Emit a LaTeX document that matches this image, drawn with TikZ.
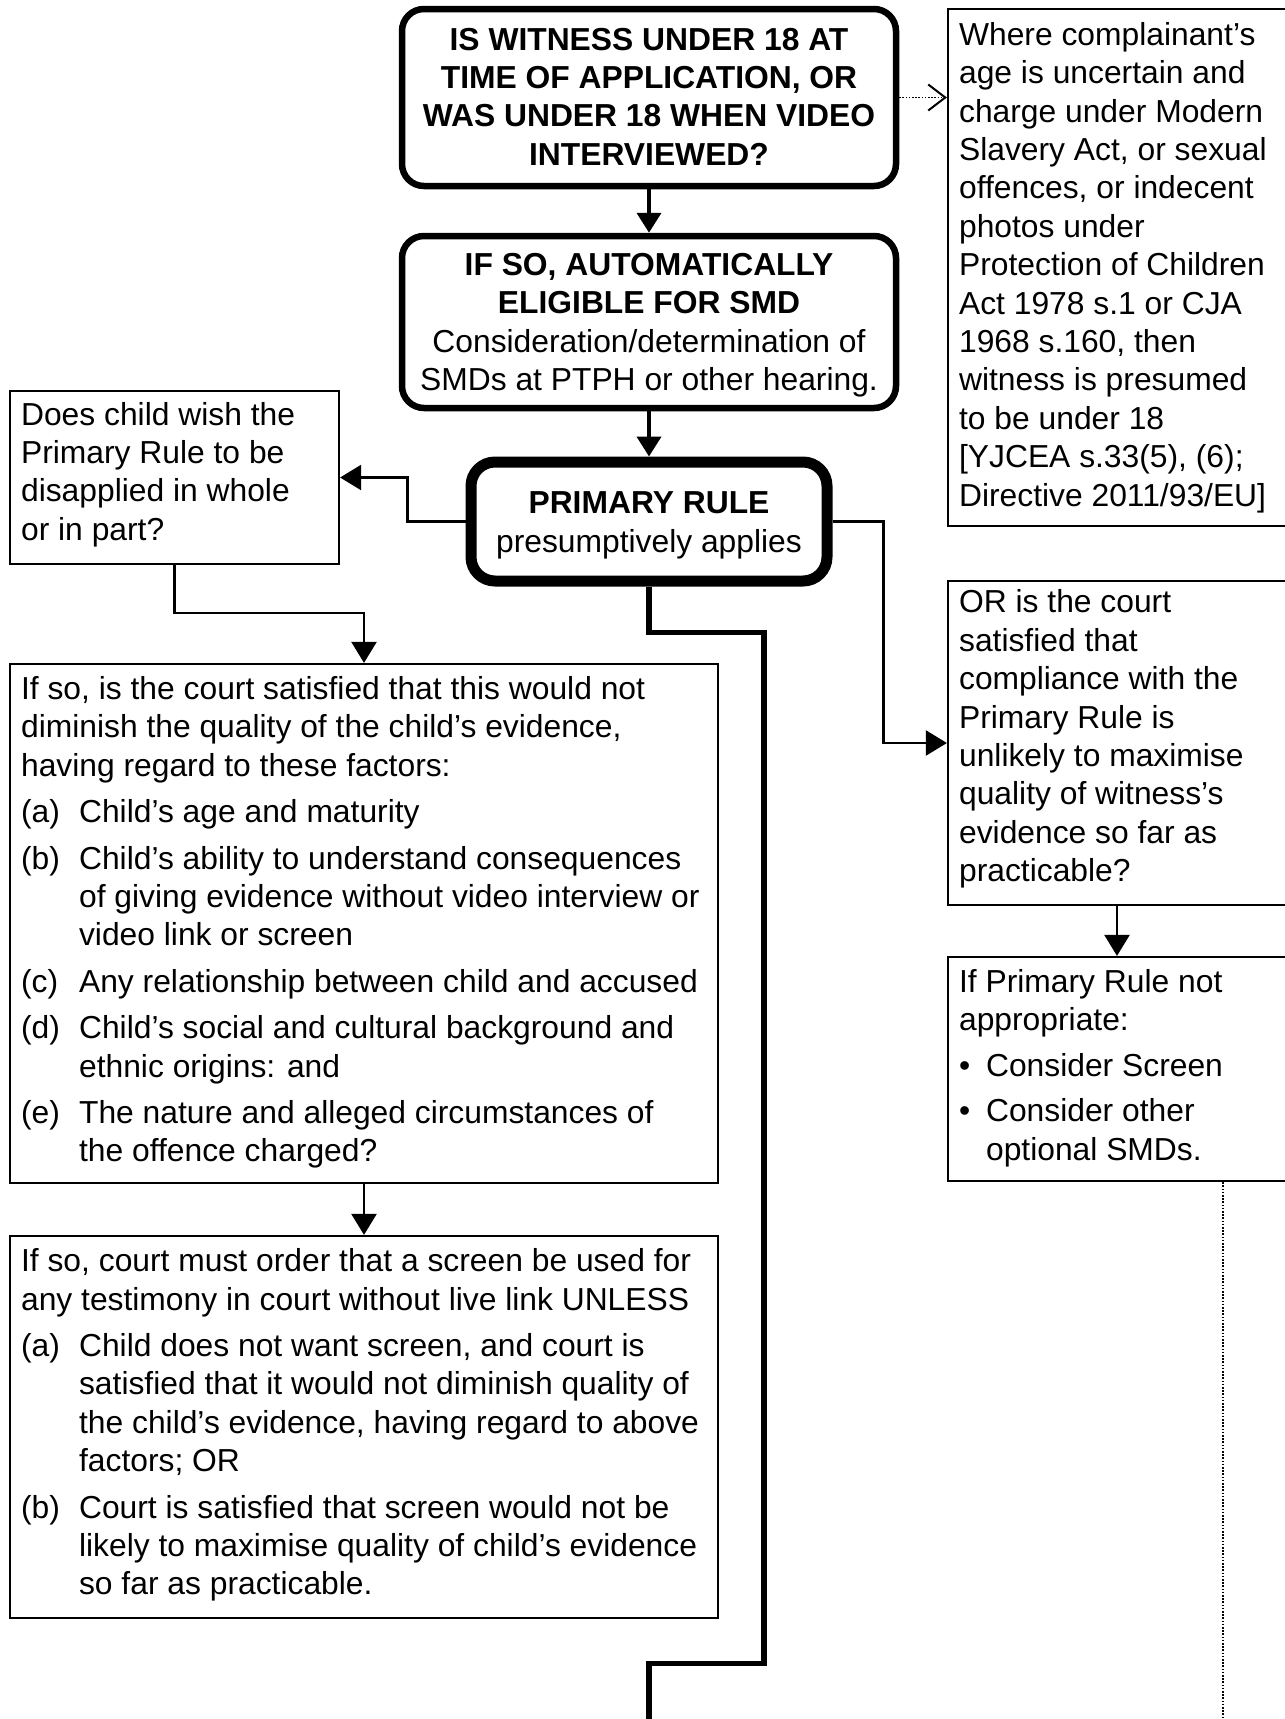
\documentclass[tikz,border=0pt]{standalone}
\usepackage{fontspec}
\setmainfont{Liberation Sans}
\usetikzlibrary{arrows.meta}
\begin{document}
\begin{tikzpicture}[x=1pt,y=-1pt,
  every node/.style={font=\fontsize{31.8}{38.4}\selectfont, inner sep=0pt},
  rbox/.style={draw, line width=6.5pt, rounded corners=22pt},
  pbox/.style={draw, line width=11pt, rounded corners=24pt},
  sbox/.style={draw, line width=2.2pt},
  txt/.style={align=left, anchor=west},
  ctxt/.style={align=center},
  tri/.style={-{Triangle[length=20pt,width=24pt]}},
  mainarrow/.style={line width=4pt, tri},
  thinarrow/.style={line width=2.2pt, -{Triangle[length=21pt,width=25pt]}},
  thickline/.style={line width=5.5pt, line join=miter},
  dotline/.style={line width=1.6pt, dash pattern=on 1.6pt off 1.6pt},
]
\useasboundingbox (0,0) rectangle (1285,1719);

% rounded boxes
\node[rbox, minimum width=494pt, minimum height=177pt] (top) at (649,97.5) {};
\node[ctxt] (top-t) at ([yshift=1pt]top.center)
  {\bfseries IS WITNESS UNDER 18 AT\\\bfseries TIME OF APPLICATION, OR\\\bfseries WAS UNDER 18 WHEN VIDEO\\\bfseries INTERVIEWED?};
\node[rbox, minimum width=494pt, minimum height=172pt] (box2) at (649,322) {};
\node[ctxt] (box2-t) at ([yshift=-3pt]box2.center)
  {\textbf{IF SO, AUTOMATICALLY}\\\textbf{ELIGIBLE FOR SMD}\\Consideration/determination of\\SMDs at PTPH or other hearing.};
\node[pbox, minimum width=356pt, minimum height=119pt] (primary) at (649,521.5) {};
\node[ctxt] (primary-t) at ([yshift=-4pt]primary.center)
  {\textbf{PRIMARY RULE}\\presumptively applies};

% rectangular boxes
\node[sbox, minimum width=338pt, minimum height=517pt] (notes) at (1117,267.5) {};
\node[sbox, minimum width=329pt, minimum height=173pt] (leftbox) at (174.5,477.5) {};
\node[sbox, minimum width=708pt, minimum height=519pt] (bigbox) at (364,923.5) {};
\node[sbox, minimum width=708pt, minimum height=382pt] (bottombox) at (364,1427) {};
\node[sbox, minimum width=338pt, minimum height=324pt] (orbox) at (1117,743) {};
\node[sbox, minimum width=338pt, minimum height=224pt] (prnot) at (1117,1069) {};

% texts
\node[txt] (notes-t) at ([xshift=12pt]notes.west)
  {Where complainant’s\\age is uncertain and\\charge under Modern\\Slavery Act, or sexual\\offences, or indecent\\photos under\\Protection of Children\\Act 1978 s.1 or CJA\\1968 s.160, then\\witness is presumed\\to be under 18\\{[}YJCEA s.33(5), (6);\\Directive 2011/93/EU]};
\node[txt] (leftbox-t) at ([xshift=12pt,yshift=3pt]leftbox.west)
  {Does child wish the\\Primary Rule to be\\disapplied in whole\\or in part?};
\node[txt] (bigbox-t) at ([xshift=12pt,yshift=1pt]bigbox.west)
  {If so, is the court satisfied that this would not\\
   diminish the quality of the child’s evidence,\\
   having regard to these factors:\\[8pt]
   \makebox[58pt][l]{(a)}Child’s age and maturity\\[8pt]
   \makebox[58pt][l]{(b)}Child’s ability to understand consequences\\
   \hspace*{58pt}of giving evidence without video interview or\\
   \hspace*{58pt}video link or screen\\[8pt]
   \makebox[58pt][l]{(c)}Any relationship between child and accused\\[8pt]
   \makebox[58pt][l]{(d)}Child’s social and cultural background and\\
   \hspace*{58pt}ethnic origins: and\\[8pt]
   \makebox[58pt][l]{(e)}The nature and alleged circumstances of\\
   \hspace*{58pt}the offence charged?};
\node[txt] (bottombox-t) at ([xshift=12pt,yshift=2pt]bottombox.west)
  {If so, court must order that a screen be used for\\
   any testimony in court without live link UNLESS\\[8pt]
   \makebox[58pt][l]{(a)}Child does not want screen, and court is\\
   \hspace*{58pt}satisfied that it would not diminish quality of\\
   \hspace*{58pt}the child’s evidence, having regard to above\\
   \hspace*{58pt}factors; OR\\[8pt]
   \makebox[58pt][l]{(b)}Court is satisfied that screen would not be\\
   \hspace*{58pt}likely to maximise quality of child’s evidence\\
   \hspace*{58pt}so far as practicable.};
\node[txt] (orbox-t) at ([xshift=12pt,yshift=4pt]orbox.west)
  {OR is the court\\satisfied that\\compliance with the\\Primary Rule is\\unlikely to maximise\\quality of witness’s\\evidence so far as\\practicable?};
\node[txt] (prnot-t) at ([xshift=12pt,yshift=1pt]prnot.west)
  {If Primary Rule not\\appropriate:\\[7pt]
   \makebox[27pt][l]{•}Consider Screen\\[7pt]
   \makebox[27pt][l]{•}Consider other\\
   \hspace*{27pt}optional SMDs.};

% connectors
\draw[mainarrow] (top) -- (box2);
\draw[mainarrow] (box2) -- (primary);
\draw[thinarrow] (primary.west) -- ++(-58,0) |- (leftbox.east);
\draw[thinarrow] (leftbox.south) -- ++(0,48) -| (bigbox.north);
\draw[thinarrow] (primary.east) -- ++(51,0) |- (orbox.west);
\draw[thinarrow] (bigbox) -- (bottombox);
\draw[thinarrow] (orbox) -- (prnot);
\coordinate (bottomend) at (649,1725);
\draw[thickline] (primary.south) -- ++(0,46) -- ++(115,0) -- ++(0,1031) -- ++(-115,0) -- (bottomend);
\draw[dotline, -{Straight Barb[length=17pt,width=26pt,line width=2pt]}] (top.east) -- (top.east -| notes.west);
\coordinate (dotend) at (1223,1725);
\draw[dotline] (prnot.south -| dotend) -- (dotend);
\end{tikzpicture}
\end{document}
